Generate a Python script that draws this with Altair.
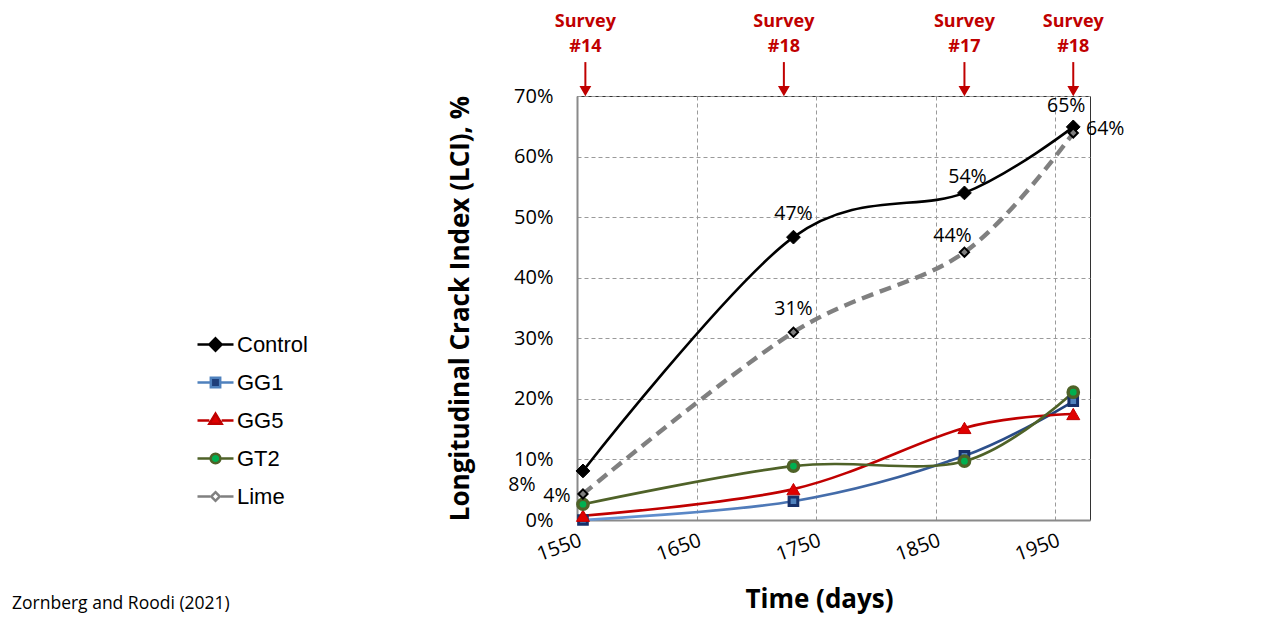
import altair as alt
import pandas as pd

# ---------------- data ----------------
days = [1555, 1731, 1874, 1965]
series_names = ["Control", "GG1", "GG5", "GT2", "Lime"]
control = [0.081, 0.467, 0.540, 0.649]
gg1 = [0.000, 0.031, 0.106, 0.196]
gg5 = [0.007, 0.051, 0.152, 0.175]
gt2 = [0.026, 0.089, 0.097, 0.211]
lime = [0.043, 0.310, 0.442, 0.639]

survey_days = [1557, 1723, 1874, 1965]
survey_labels = ["Survey #14", "Survey #18", "Survey #17", "Survey #18"]

x_ticks = [1550, 1650, 1750, 1850, 1950]
y_ticks = [0.0, 0.1, 0.2, 0.3, 0.4, 0.5, 0.6, 0.7]

source_note = "Zornberg and Roodi (2021)"

values = {"Control": control, "GG1": gg1, "GG5": gg5, "GT2": gt2, "Lime": lime}
rows = []
for s in series_names:
    for i, (d, v) in enumerate(zip(days, values[s])):
        rows.append({"series": s, "idx": i, "day": d, "value": v})
df = pd.DataFrame(rows)
survey_df = pd.DataFrame({"day": survey_days, "label": survey_labels})

# ---------------- styles ----------------
FONT = "Open Sans"
RED = "#C00000"
gg1_grad = alt.LinearGradient(
    gradient="linear",
    stops=[alt.GradientStop(color="#6A9BDB", offset=0),
           alt.GradientStop(color="#1F3F7A", offset=1)],
    x1=0, x2=1, y1=0, y2=0,
)
line_style = {
    "Control": dict(stroke="#000000", strokeWidth=2.6),
    "GG1": dict(stroke=gg1_grad, strokeWidth=2.6),
    "GG5": dict(stroke="#C00000", strokeWidth=2.6),
    "GT2": dict(stroke="#4F6228", strokeWidth=2.6),
    "Lime": dict(stroke="#808080", strokeWidth=4.4, strokeDash=[12, 7]),
}
point_style = {
    "Control": dict(shape="diamond", size=190, fill="#000000", stroke="#000000", strokeWidth=1),
    "GG1": dict(shape="square", size=75, fill="#4F81BD", stroke="#17306A", strokeWidth=3),
    "GG5": dict(shape="triangle-up", size=170, fill="#E00000", stroke="#C00000", strokeWidth=1),
    "GT2": dict(shape="circle", size=105, fill="#00B050", stroke="#4F6228", strokeWidth=3.5),
    "Lime": dict(shape="diamond", size=85, fill="#7F7F7F", stroke="#000000", strokeWidth=2),
}
# data-label offsets (series, point index, dx, dy)
label_offsets = [
    ("Control", 0, -61, 14), ("Control", 1, 0, -23), ("Control", 2, 3, -16), ("Control", 3, -7, -21),
    ("Lime", 0, -26, 2), ("Lime", 1, 0, -23), ("Lime", 2, -12, -16), ("Lime", 3, 32, -4),
]
legend_paths = [
    "M-1,0H-0.32M0.32,0H1M0,-0.34L0.34,0L0,0.34L-0.34,0Z",
    "M-1,0H-0.28M0.28,0H1M-0.26,-0.26H0.26V0.26H-0.26Z",
    "M-1,0H-0.34M0.34,0H1M0,-0.38L0.34,0.18L-0.34,0.18Z",
    "M-1,0H-0.3M0.3,0H1M0.27,0A0.27,0.27,0,1,1,-0.27,0A0.27,0.27,0,1,1,0.27,0Z",
    "M-1,0H-0.3M0.3,0H1M0,-0.24L0.24,0L0,0.24L-0.24,0Z",
]
legend_stroke = ["#000000", "#4F81BD", "#C00000", "#4F6228", "#808080"]
legend_fill = ["#000000", "#1F3F7A", "#E00000", "#00B050", "#FFFFFF"]

# ---------------- encodings ----------------
x_enc = alt.X(
    "day:Q",
    scale=alt.Scale(domain=[1550, 1979], nice=False, zero=False),
    axis=alt.Axis(
        values=x_ticks, format="d", title="Time (days)",
        labelAngle=-20, labelAlign="right", labelBaseline="top", labelPadding=10,
        labelFontSize=20, titleFontSize=26, titleFontWeight="bold",
        titleX=242, titleY=87, titleBaseline="alphabetic", titleAlign="center",
        grid=True, gridDash=[4, 3], gridColor="#9A9A9A", gridWidth=1,
        domainColor="#8A8A8A", domainWidth=2, ticks=False,
    ),
)
y_enc = alt.Y(
    "value:Q",
    scale=alt.Scale(domain=[0, 0.7], nice=False),
    axis=alt.Axis(
        values=y_ticks, format=".0%", title="Longitudinal Crack Index (LCI), %",
        labelFontSize=20, labelPadding=24, titleFontSize=26, titleFontWeight="bold",
        titlePadding=40,
        grid=True, gridDash=[4, 3], gridColor="#9A9A9A", gridWidth=1,
        domainColor="#8A8A8A", domainWidth=2, ticks=False,
    ),
)

base = alt.Chart(df)
layers = []

# survey annotations
sbase = alt.Chart(survey_df)
layers.append(sbase.mark_text(font=FONT, fontSize=18, fontWeight="bold", color=RED,
                              lineBreak=" ", lineHeight=25, baseline="middle", dy=-74)
              .encode(x=alt.X("day:Q"), y=alt.datum(0.7), text="label:N"))
layers.append(sbase.mark_rule(color=RED, strokeWidth=2)
              .encode(x=alt.X("day:Q"), y=alt.datum(0.756), y2=alt.datum(0.71)))
layers.append(sbase.mark_point(shape="triangle-down", size=70, filled=True, fill=RED,
                               stroke=RED, opacity=1)
              .encode(x=alt.X("day:Q"), y=alt.datum(0.709)))

# lines
for s in series_names:
    layers.append(base.transform_filter(alt.datum.series == s)
                  .mark_line(interpolate="cardinal", tension=0, **line_style[s])
                  .encode(x=x_enc, y=y_enc))
# points
for s in series_names:
    layers.append(base.transform_filter(alt.datum.series == s)
                  .mark_point(filled=True, opacity=1, **point_style[s])
                  .encode(x=x_enc, y=y_enc))
# data labels
for s, i, dx, dy in label_offsets:
    layers.append(base.transform_filter((alt.datum.series == s) & (alt.datum.idx == i))
                  .mark_text(font=FONT, fontSize=19.5, color="#000000", dx=dx, dy=dy,
                             baseline="middle", align="center")
                  .encode(x=x_enc, y=y_enc, text=alt.Text("value:Q", format=".0%")))

# legend (built from the scales, no data rows drawn)
leg = alt.Legend(title=None, orient="none", legendX=-381, legendY=229, padding=0,
                 symbolSize=1296, symbolStrokeWidth=2.5, labelFont="Liberation Sans",
                 labelFontSize=22, labelOffset=2, rowPadding=7, labelColor="#000000")
layers.append(base.transform_filter("false")
              .mark_point(filled=True, opacity=1)
              .encode(x=x_enc, y=y_enc,
                      shape=alt.Shape("series:N", scale=alt.Scale(domain=series_names, range=legend_paths), legend=leg),
                      stroke=alt.Stroke("series:N", scale=alt.Scale(domain=series_names, range=legend_stroke), legend=leg),
                      fill=alt.Fill("series:N", scale=alt.Scale(domain=series_names, range=legend_fill), legend=leg)))

chart = alt.layer(*layers).properties(
    width=513, height=424,
    autosize=alt.AutoSizeParams(type="none"),
    padding={"left": 569, "top": 88, "right": 179, "bottom": 95},
    title=alt.TitleParams(source_note, orient="bottom", anchor="start", frame="group",
                          dx=-565, dy=-17, fontSize=17.5, font=FONT, fontWeight="normal",
                          color="#000000", offset=0),
).configure_axis(
    labelFont=FONT, titleFont=FONT, labelColor="#000000", titleColor="#000000",
).configure_view(stroke="#333333", strokeWidth=1)

chart.save("out.html", embed_options={"renderer": "svg", "actions": False})
